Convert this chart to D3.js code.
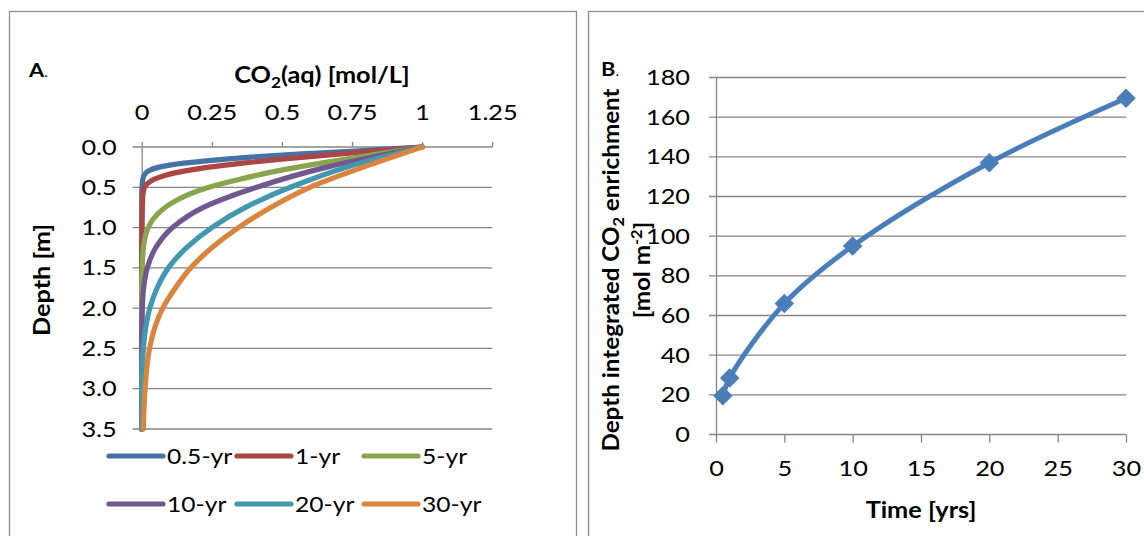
<!DOCTYPE html>
<html>
<head>
<meta charset="utf-8">
<script src="https://cdn.jsdelivr.net/npm/d3@7"></script>
<style>
  html, body { margin: 0; padding: 0; background: #fff; }
  svg { display: block; }
  text { font-family: Lato, "Open Sans", sans-serif; fill: #000; }
</style>
</head>
<body>
<svg id="chart" width="1144" height="536"></svg>
<script>
// ---- Panel A: dissolved CO2 depth profiles ----
const concTicks = [0, 0.25, 0.5, 0.75, 1, 1.25];
const concTickLabels = ["0", "0.25", "0.5", "0.75", "1", "1.25"];
const depthTicks = [0, 0.5, 1, 1.5, 2, 2.5, 3, 3.5];
const depthTickLabels = ["0.0", "0.5", "1.0", "1.5", "2.0", "2.5", "3.0", "3.5"];

const seriesNames = ["0.5-yr", "1-yr", "5-yr", "10-yr", "20-yr", "30-yr"];

// [CO2(aq) mol/L, depth m]
const profile05yr = [[1.00, 0.000], [0.87, 0.025], [0.76, 0.050], [0.63, 0.075], [0.50, 0.100], [0.39, 0.125], [0.30, 0.150], [0.22, 0.175], [0.15, 0.200], [0.10, 0.225], [0.062, 0.250], [0.022, 0.300], [0.009, 0.350], [0.004, 0.400], [0.001, 0.500], [0.0, 0.600], [0.0, 3.500]];
const profile1yr = [[1.00, 0.00], [0.83, 0.05], [0.66, 0.10], [0.50, 0.15], [0.36, 0.20], [0.24, 0.25], [0.15, 0.30], [0.085, 0.35], [0.045, 0.40], [0.022, 0.45], [0.010, 0.50], [0.004, 0.60], [0.002, 0.80], [0.001, 1.00], [0.0, 1.20], [0.0, 3.50]];
const profile5yr = [[1.00, 0.0], [0.82, 0.1], [0.64, 0.2], [0.48, 0.3], [0.35, 0.4], [0.24, 0.5], [0.16, 0.6], [0.105, 0.7], [0.066, 0.8], [0.040, 0.9], [0.023, 1.0], [0.008, 1.2], [0.003, 1.4], [0.001, 1.6], [0.0, 1.8], [0.0, 3.5]];
const profile10yr = [[1.00, 0.00], [0.66, 0.25], [0.41, 0.50], [0.22, 0.75], [0.11, 1.00], [0.05, 1.25], [0.020, 1.50], [0.007, 1.75], [0.002, 2.00], [0.0, 2.25], [0.0, 3.50]];
const profile20yr = [[1.00, 0.00], [0.73, 0.25], [0.53, 0.50], [0.37, 0.75], [0.25, 1.00], [0.16, 1.25], [0.095, 1.50], [0.055, 1.75], [0.029, 2.00], [0.014, 2.25], [0.006, 2.50], [0.002, 2.75], [0.0, 3.00], [0.0, 3.50]];
const profile30yr = [[1.00, 0.00], [0.79, 0.25], [0.60, 0.50], [0.46, 0.75], [0.345, 1.00], [0.25, 1.25], [0.175, 1.50], [0.12, 1.75], [0.075, 2.00], [0.046, 2.25], [0.028, 2.50], [0.012, 3.00], [0.006, 3.50]];
const profiles = [profile05yr, profile1yr, profile5yr, profile10yr, profile20yr, profile30yr];

// ---- Panel B: depth-integrated enrichment over time ----
const timeYears = [0.5, 1, 5, 10, 20, 30];
const enrichment = [19.5, 28.5, 66, 95, 137, 169.5];
const timeTicks = [0, 5, 10, 15, 20, 25, 30];
const enrichTicks = [0, 20, 40, 60, 80, 100, 120, 140, 160, 180];

const seriesColors = ["#4572A7", "#AA4643", "#89A54E", "#71588F", "#4198AF", "#DB843D"];
const enrichColor = "#4A7EBB";
const gridColor = "#868686";
const frameColor = "#8C8C8C";
const SX = 1.15; // horizontal text stretch

const svg = d3.select("#chart");

// widen glyphs horizontally around each text's anchor point
function stretch(sel, rot, sx = SX) {
  sel.each(function () {
    const t = d3.select(this);
    const x = +t.attr("x") || 0, y = +t.attr("y") || 0;
    t.attr("x", 0).attr("y", 0)
      .attr("transform", `translate(${x},${y})${rot ? " rotate(-90)" : ""} scale(${sx},1)`);
  });
  return sel;
}

// panel frames
svg.append("rect").attr("x", 9.5).attr("y", 11.5).attr("width", 567).attr("height", 600)
  .attr("fill", "none").attr("stroke", frameColor).attr("stroke-width", 1.3);
svg.append("rect").attr("x", 588.5).attr("y", 11.5).attr("width", 700).attr("height", 600)
  .attr("fill", "none").attr("stroke", frameColor).attr("stroke-width", 1.3);

// ================= Panel A =================
const xA = d3.scaleLinear().domain([0, 1.25]).range([141.7, 492.2]);
const yA = d3.scaleLinear().domain([0, 3.5]).range([147, 429]);
const gA = svg.append("g");

// horizontal gridlines
gA.selectAll("line.grid").data(depthTicks.slice(1)).join("line")
  .attr("x1", xA(0) - 9).attr("x2", xA(1.25))
  .attr("y1", d => yA(d)).attr("y2", d => yA(d))
  .attr("stroke", gridColor).attr("stroke-width", 1.3);

// top (value) axis
const axTop = gA.append("g").attr("transform", `translate(0,${yA(0)})`)
  .call(d3.axisTop(xA).tickValues(concTicks).tickSize(5).tickFormat((d, i) => concTickLabels[i]));
axTop.select(".domain").remove();
axTop.selectAll(".tick line").attr("stroke", gridColor).attr("stroke-width", 1.3);
axTop.selectAll(".tick text").attr("font-size", 22).attr("font-family", "Lato").attr("fill", "#000")
  .attr("y", -27).attr("dy", 0);
stretch(axTop.selectAll(".tick text"));
gA.append("line").attr("x1", xA(0) - 9).attr("x2", xA(1.25)).attr("y1", yA(0)).attr("y2", yA(0))
  .attr("stroke", gridColor).attr("stroke-width", 1.3);

// left (depth) axis
const axLeft = gA.append("g").attr("transform", `translate(${xA(0)},0)`)
  .call(d3.axisLeft(yA).tickValues(depthTicks).tickSize(0).tickPadding(25).tickFormat((d, i) => depthTickLabels[i]));
axLeft.select(".domain").attr("stroke", gridColor).attr("stroke-width", 1.3);
axLeft.selectAll(".tick text").attr("font-size", 22).attr("font-family", "Lato").attr("fill", "#000");
stretch(axLeft.selectAll(".tick text"));

// profiles
const lineA = d3.line().x(d => xA(d[0])).y(d => yA(d[1])).curve(d3.curveMonotoneY);
gA.selectAll("path.profile").data(profiles).join("path")
  .attr("class", "profile")
  .attr("d", lineA)
  .attr("fill", "none")
  .attr("stroke", (d, i) => seriesColors[i])
  .attr("stroke-width", 5.2)
  .attr("stroke-linecap", "round")
  .attr("stroke-linejoin", "round");

// titles
const titleA = gA.append("text").attr("x", 322).attr("y", 83)
  .attr("text-anchor", "middle").attr("font-size", 22).attr("font-weight", "bold");
titleA.append("tspan").text("CO");
titleA.append("tspan").text("2").attr("font-size", 15).attr("dy", 5);
titleA.append("tspan").text("(aq) [mol/L]").attr("dy", -5);
stretch(titleA);

const labA = gA.append("text").attr("x", 29).attr("y", 77).attr("font-size", 19);
labA.append("tspan").text("A").attr("font-weight", "bold");
labA.append("tspan").text(".").attr("font-size", 13);
stretch(labA);

stretch(gA.append("text").attr("x", 50).attr("y", 280)
  .attr("text-anchor", "middle").attr("font-size", 22).attr("font-weight", "bold")
  .text("Depth [m]"), true);

// legend
const legCols = [109, 237, 364];
const legRows = [456, 504];
const leg = gA.selectAll("g.leg").data(seriesNames).join("g")
  .attr("transform", (d, i) => `translate(${legCols[i % 3]},${legRows[Math.floor(i / 3)]})`);
leg.append("line").attr("x1", 0).attr("x2", 54).attr("y1", 0).attr("y2", 0)
  .attr("stroke", (d, i) => seriesColors[i]).attr("stroke-width", 5.2).attr("stroke-linecap", "round");
stretch(leg.append("text").attr("x", 58).attr("y", 7.5).attr("font-size", 22).text(d => d), false, 1.12);

// ================= Panel B =================
const xB = d3.scaleLinear().domain([0, 30]).range([716, 1126]);
const yB = d3.scaleLinear().domain([0, 180]).range([434.5, 77.5]);
const gB = svg.append("g");

gB.selectAll("line.grid").data(enrichTicks.slice(1)).join("line")
  .attr("x1", xB(0) - 7).attr("x2", xB(30))
  .attr("y1", d => yB(d)).attr("y2", d => yB(d))
  .attr("stroke", gridColor).attr("stroke-width", 1.3);

const axB = gB.append("g").attr("transform", `translate(0,${yB(0)})`)
  .call(d3.axisBottom(xB).tickValues(timeTicks).tickSize(8).tickPadding(18).tickFormat(d3.format("d")));
axB.select(".domain").remove();
axB.selectAll(".tick line").attr("stroke", gridColor).attr("stroke-width", 1.3);
axB.selectAll(".tick text").attr("font-size", 22).attr("font-family", "Lato").attr("fill", "#000");
stretch(axB.selectAll(".tick text"));
gB.append("line").attr("x1", xB(0) - 7).attr("x2", xB(30)).attr("y1", yB(0)).attr("y2", yB(0))
  .attr("stroke", gridColor).attr("stroke-width", 1.3);

const ayB = gB.append("g").attr("transform", `translate(${xB(0)},0)`)
  .call(d3.axisLeft(yB).tickValues(enrichTicks).tickSize(0).tickPadding(26).tickFormat(d3.format("d")));
ayB.select(".domain").attr("stroke", gridColor).attr("stroke-width", 1.3);
ayB.selectAll(".tick text").attr("font-size", 22).attr("font-family", "Lato").attr("fill", "#000");
stretch(ayB.selectAll(".tick text"));

const enrichPts = timeYears.map((t, i) => [t, enrichment[i]]);
gB.append("path").datum(enrichPts)
  .attr("d", d3.line().x(d => xB(d[0])).y(d => yB(d[1])).curve(d3.curveCatmullRom.alpha(0.5)))
  .attr("fill", "none").attr("stroke", enrichColor).attr("stroke-width", 5)
  .attr("stroke-linejoin", "round");
gB.selectAll("path.mark").data(enrichPts).join("path")
  .attr("class", "mark")
  .attr("transform", d => `translate(${xB(d[0])},${yB(d[1])}) rotate(45)`)
  .attr("d", d3.symbol(d3.symbolSquare, 190)())
  .attr("fill", enrichColor);

const labB = gB.append("text").attr("x", 601).attr("y", 76).attr("font-size", 19);
labB.append("tspan").text("B").attr("font-weight", "bold");
labB.append("tspan").text(".").attr("font-size", 13);
stretch(labB);

stretch(gB.append("text").attr("x", 921).attr("y", 518).attr("text-anchor", "middle")
  .attr("font-size", 22).attr("font-weight", "bold").text("Time [yrs]"));

const ytB1 = gB.append("text").attr("x", 619).attr("y", 270)
  .attr("text-anchor", "middle").attr("font-size", 22).attr("font-weight", "bold");
ytB1.append("tspan").text("Depth integrated CO");
ytB1.append("tspan").text("2").attr("font-size", 15).attr("dy", 5);
ytB1.append("tspan").text(" enrichment").attr("dy", -5);
stretch(ytB1, true, 1.1);

const ytB2 = gB.append("text").attr("x", 650).attr("y", 270)
  .attr("text-anchor", "middle").attr("font-size", 22).attr("font-weight", "bold");
ytB2.append("tspan").text("[mol m");
ytB2.append("tspan").text("-2").attr("font-size", 15).attr("dy", -8);
ytB2.append("tspan").text("]").attr("dy", 8);
stretch(ytB2, true, 1.1);
</script>
</body>
</html>
